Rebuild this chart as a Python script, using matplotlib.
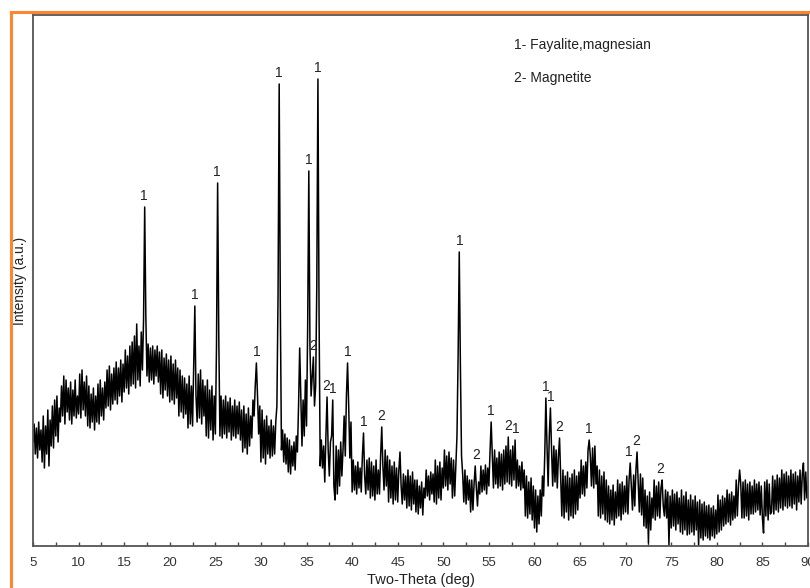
import numpy as np
import matplotlib
matplotlib.use('Agg')
import matplotlib.pyplot as plt
from matplotlib.patches import Rectangle
from matplotlib.ticker import MultipleLocator

plt.rcParams['font.family'] = ['Liberation Sans', 'DejaVu Sans']

# XRD scan, 5-90 deg in 0.125 deg steps (counts in a.u.), one row per degree
start_2theta = 5.0
step_2theta = 0.125
intensity = [
    104, 122, 92, 118, 88, 124, 96, 116,      # 5
    84, 130, 78, 120, 92, 136, 80, 126,       # 6
    100, 140, 98, 146, 110, 150, 104, 138,    # 7
    124, 160, 130, 170, 122, 166, 134, 158,   # 8
    126, 164, 122, 156, 130, 166, 128, 150,   # 9
    132, 172, 128, 176, 136, 164, 130, 170,   # 10
    120, 160, 118, 152, 124, 158, 116, 150,   # 11
    124, 162, 122, 166, 130, 158, 126, 164,   # 12
    138, 176, 140, 180, 136, 172, 142, 178,   # 13
    146, 184, 142, 178, 150, 186, 144, 182,   # 14
    154, 196, 158, 190, 152, 200, 160, 204,   # 15
    162, 210, 158, 222, 166, 200, 160, 214,   # 16
    176, 226, 339, 230, 170, 202, 164, 198,   # 17
    166, 200, 162, 196, 170, 200, 164, 194,   # 18
    152, 196, 148, 188, 156, 192, 150, 186,   # 19
    144, 190, 146, 182, 142, 186, 148, 178,   # 20
    130, 176, 134, 170, 128, 168, 132, 162,   # 21
    118, 170, 122, 160, 120, 180, 240, 150,   # 22
    124, 172, 128, 176, 122, 166, 130, 160,   # 23
    110, 166, 108, 156, 116, 160, 106, 150,   # 24
    112, 200, 363, 210, 110, 150, 108, 146,   # 25
    112, 150, 108, 144, 114, 148, 106, 140,   # 26
    110, 146, 108, 140, 112, 144, 106, 136,   # 27
    94, 140, 98, 132, 92, 138, 100, 130,      # 28
    108, 146, 130, 160, 183, 150, 112, 140,   # 29
    84, 136, 88, 126, 82, 130, 92, 120,       # 30
    88, 126, 90, 120, 92, 124, 140, 250,      # 31
    462, 240, 96, 116, 84, 112, 82, 108,      # 32
    74, 106, 72, 100, 80, 104, 76, 110,       # 33
    94, 140, 198, 150, 100, 146, 110, 166,    # 34
    120, 220, 375, 200, 150, 170, 189, 140,   # 35
    160, 260, 467, 230, 80, 106, 78, 100,     # 36
    64, 110, 149, 96, 70, 104, 110, 146,      # 37
    60, 46, 100, 52, 96, 60, 104, 70,         # 38
    96, 130, 90, 150, 183, 140, 88, 124,      # 39
    54, 86, 56, 80, 52, 84, 58, 78,           # 40
    54, 90, 113, 70, 52, 86, 56, 88,          # 41
    48, 84, 50, 80, 46, 86, 52, 76,           # 42
    52, 90, 119, 80, 56, 96, 60, 90,          # 43
    44, 86, 48, 80, 42, 84, 46, 78,           # 44
    44, 76, 94, 60, 42, 72, 46, 70,           # 45
    38, 76, 40, 70, 36, 74, 42, 66,           # 46
    34, 66, 32, 60, 38, 64, 31, 58,           # 47
    48, 76, 50, 70, 46, 74, 52, 72,           # 48
    44, 86, 42, 80, 48, 84, 46, 78,           # 49
    58, 96, 60, 90, 56, 94, 62, 88,           # 50
    48, 86, 50, 80, 110, 190, 294, 180,       # 51
    90, 72, 44, 76, 42, 70, 46, 66,           # 52
    34, 66, 36, 62, 80, 58, 40, 64,           # 53
    52, 80, 54, 76, 56, 81, 52, 78,           # 54
    60, 94, 124, 90, 58, 96, 62, 88,          # 55
    58, 94, 60, 92, 56, 96, 62, 100,          # 56
    64, 109, 62, 96, 60, 100, 66, 106,        # 57
    58, 86, 60, 80, 56, 84, 58, 76,           # 58
    30, 70, 28, 64, 32, 68, 26, 60,           # 59
    18, 56, 14, 50, 22, 56, 30, 70,           # 60
    50, 90, 148, 100, 60, 110, 138, 96,       # 61
    60, 100, 64, 96, 58, 90, 108, 70,         # 62
    30, 76, 28, 70, 34, 74, 26, 68,           # 63
    30, 72, 28, 76, 32, 70, 36, 74,           # 64
    48, 86, 52, 80, 50, 84, 58, 96,           # 65
    106, 90, 60, 98, 58, 100, 62, 80,         # 66
    30, 76, 28, 70, 32, 74, 26, 66,           # 67
    24, 60, 22, 56, 26, 61, 21, 54,           # 68
    28, 66, 30, 62, 26, 64, 32, 60,           # 69
    34, 70, 32, 66, 83, 60, 36, 71,           # 70
    40, 76, 94, 64, 34, 72, 31, 68,           # 71
    20, 56, 18, 50, 3, 54, 16, 48,            # 72
    28, 66, 26, 60, 30, 64, 28, 58,           # 73
    66, 40, 30, 56, 28, 54, 1, 50,            # 74
    18, 56, 20, 52, 16, 54, 22, 48,           # 75
    14, 56, 12, 50, 16, 54, 11, 46,           # 76
    12, 51, 14, 46, 11, 50, 16, 44,           # 77
    1, 46, 8, 42, 6, 44, 10, 40,              # 78
    8, 41, 6, 38, 10, 40, 8, 36,              # 79
    12, 51, 14, 46, 16, 50, 20, 48,           # 80
    22, 56, 24, 52, 21, 54, 26, 50,           # 81
    28, 66, 30, 60, 76, 62, 28, 64,           # 82
    28, 66, 30, 62, 26, 64, 32, 60,           # 83
    32, 66, 34, 62, 36, 64, 31, 60,           # 84
    28, 13, 64, 30, 66, 26, 62, 32,           # 85
    34, 70, 32, 66, 36, 71, 34, 68,           # 86
    38, 76, 36, 72, 40, 74, 38, 70,           # 87
    40, 76, 38, 72, 42, 74, 36, 70,           # 88
    44, 76, 42, 72, 83, 46, 74, 48,           # 89
    60,                                       # 90
]

# phase markers: 1 = fayalite (magnesian), 2 = magnetite
peak_2theta = [17.2, 22.7, 25.2, 29.5, 32.0, 35.3, 35.7, 36.2, 37.2, 37.9, 39.5,
               41.3, 43.2, 51.8, 53.6, 55.2, 57.1, 57.9, 61.2, 61.75, 62.7, 66.0,
               70.4, 71.2, 73.8]
peak_phase = ['1', '1', '1', '1', '1', '1', '2', '1', '2', '1', '1',
              '1', '2', '1', '2', '1', '2', '1', '1', '1', '2', '1',
              '1', '2', '2']
phase_names = ['1- Fayalite,magnesian', '2- Magnetite']

two_theta = start_2theta + step_2theta * np.arange(len(intensity))
counts = np.array(intensity, dtype=float)

fig = plt.figure(figsize=(8.1, 5.88), dpi=100)
ax = fig.add_axes([33 / 810, 42 / 588, 775 / 810, 531 / 588])

ax.plot(two_theta, counts, color='black', linewidth=1.1)

# label each reflection just above the local maximum
for pos, phase in zip(peak_2theta, peak_phase):
    near = np.abs(two_theta - pos) <= 0.21
    top = counts[near].max()
    ax.annotate(phase, (pos, top), xytext=(0, 3), textcoords='offset points',
                ha='center', va='bottom', fontsize=10, color='#222222')

ax.text(0.621, 0.944, phase_names[0], transform=ax.transAxes, fontsize=10,
        va='center', ha='left', color='#222222')
ax.text(0.621, 0.882, phase_names[1], transform=ax.transAxes, fontsize=10,
        va='center', ha='left', color='#222222')

ax.set_xlim(5, 90)
ax.set_ylim(0, 531)
ax.xaxis.set_major_locator(MultipleLocator(5))
ax.xaxis.set_minor_locator(MultipleLocator(2.5))
ax.tick_params(axis='x', which='both', direction='in', length=3, width=1,
               color='#444444', labelsize=9.5, labelcolor='#333333', pad=8)
ax.set_yticks([])
for side in ax.spines.values():
    side.set_color('#555555')
    side.set_linewidth(1.3)

ax.set_xlabel('Two-Theta (deg)', fontsize=10.5, color='#222222', labelpad=3)
ax.set_ylabel('Intensity (a.u.)', fontsize=10, color='#222222', labelpad=4)

# orange frame around the figure
fig.add_artist(Rectangle((11 / 810, -0.1), 1.2, 1.1 - 12 / 588,
                         transform=fig.transFigure, fill=False,
                         edgecolor='#ff8533', linewidth=2.2, clip_on=False))

fig.savefig('out.png', dpi=100)
